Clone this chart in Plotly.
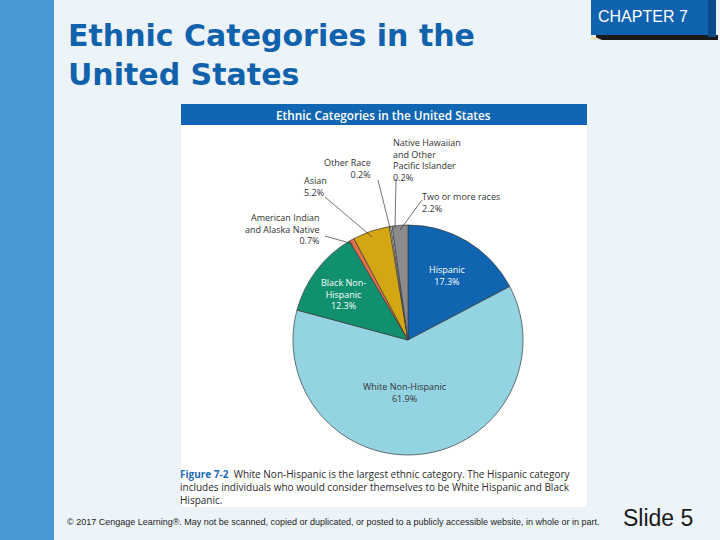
import plotly.graph_objects as go

# ---------------- data ----------------
categories = ["Hispanic", "White Non-Hispanic", "Black Non-Hispanic",
              "American Indian and Alaska Native", "Asian", "Other Race",
              "Native Hawaiian and Other Pacific Islander", "Two or more races"]
values = [17.3, 61.9, 12.3, 0.7, 5.2, 0.2, 0.2, 2.2]
label_lines = ["Hispanic", "White Non-Hispanic", "Black Non-<br>Hispanic",
               "American Indian<br>and Alaska Native", "Asian", "Other Race",
               "Native Hawaiian<br>and Other<br>Pacific Islander", "Two or more races"]
colors = ["#1064b0", "#93d3e2", "#10906f", "#e4714d", "#d4a614",
          "#f4eab8", "#ffffff", "#8b8b8d"]

slide_title = "Ethnic Categories in the<br>United States"
chart_title = "Ethnic Categories in the United States"
caption_lines = ["White Non-Hispanic is the largest ethnic category. The Hispanic category",
                 "includes individuals who would consider themselves to be White Hispanic and Black",
                 "Hispanic."]
figure_tag = "Figure 7-2"
footer = ("© 2017 Cengage Learning®. May not be scanned, copied or duplicated, "
          "or posted to a publicly accessible website, in whole or in part.")
chapter = "CHAPTER 7"
slide_no = "Slide 5"

W, H = 720, 540


def px(x):
    return x / W


def py(y):
    return 1 - y / H


# pie geometry (pixels)
cx, cy, r = 408, 340, 115

fig = go.Figure()
fig.add_trace(go.Pie(
    labels=categories, values=values, sort=False, direction="clockwise",
    rotation=0, textinfo="none", hoverinfo="label+percent",
    marker=dict(colors=colors, line=dict(color="#3a3a3a", width=0.7)),
    domain=dict(x=[px(cx - r), px(cx + r)], y=[py(cy + r), py(cy - r)]),
    showlegend=False,
))

shapes = []


def rect(x0, y0, x1, y1, color, layer="below"):
    shapes.append(dict(type="rect", xref="paper", yref="paper",
                       x0=px(x0), x1=px(x1), y0=py(y1), y1=py(y0),
                       fillcolor=color, line=dict(width=0), layer=layer))


def line(x0, y0, x1, y1):
    shapes.append(dict(type="line", xref="paper", yref="paper",
                       x0=px(x0), y0=py(y0), x1=px(x1), y1=py(y1),
                       line=dict(color="#3a3a3a", width=0.7), layer="above"))


# slide decorations
rect(0, 0, 54, 540, "#4a98d3")
rect(181, 104, 587, 507, "#ffffff")
rect(181, 104, 587, 125, "#1066b2")
# chapter box
rect(596, 35, 718, 40, "#1a1a1a")
rect(708, 0, 716, 37, "#0b4a8a")
rect(591, 0, 708, 35, "#0f63ae")
shapes.append(dict(type="path", xref="paper", yref="paper",
                   path=f"M {px(591)} {py(35)} L {px(602)} {py(40)} L {px(591)} {py(40)} Z",
                   fillcolor="#e6e2c4", line=dict(width=0), layer="below"))

# leader lines
line(396, 179, 395, 228)      # Native Hawaiian
line(378, 180, 390, 228)      # Other Race
line(325, 197, 372, 237)      # Asian
line(422, 200, 400, 230)      # Two or more races
line(325, 236, 353, 244)      # American Indian

annotations = []


def ann(text, x, y, size, color="#333333", family="Open Sans",
        xanchor="center", align="center", weight=None):
    f = dict(size=size, color=color, family=family)
    if weight:
        f["weight"] = weight
    annotations.append(dict(text=text, x=px(x), y=py(y), xref="paper", yref="paper",
                            xanchor=xanchor, yanchor="middle", align=align,
                            showarrow=False, font=f))


def block_center(first_center, n, size):
    return first_center + (n - 1) * 1.3 * size / 2


# slide title
ann(slide_title, 66, block_center(36, 2, 30), 30, color="#1062ac",
    family="DejaVu Sans", xanchor="left", align="left", weight="bold")
ann(chapter, 596, 16, 16, color="#ffffff", family="Liberation Sans",
    xanchor="left", align="left")
ann(chart_title, 383, 115, 11.8, color="#ffffff", family="Open Sans", weight=600)

# pie labels: (index, x, first-line y, anchor, colour)
lab_pos = [
    (0, 447, 270, "center", "#ffffff"),
    (1, 405, 387, "center", "#333333"),
    (2, 343, 282, "center", "#ffffff"),
    (3, 322, 217, "right", "#333333"),
    (4, 302, 181, "left", "#333333"),
    (5, 373, 163, "right", "#333333"),
    (6, 391, 142, "left", "#333333"),
    (7, 420, 197, "left", "#333333"),
]
for i, x, y0, anc, col in lab_pos:
    txt = f"{label_lines[i]}<br>{values[i]}%"
    n = txt.count("<br>") + 1
    ann(txt, x, block_center(y0, n, 9), 9, color=col,
        xanchor=anc, align=anc)

# caption
cap = (f"<b><span style='color:#1a6bb5'>{figure_tag}</span></b>  "
       + "<br>".join(caption_lines))
ann(cap, 178, block_center(474, 3, 10), 10, color="#2a2a2a",
    xanchor="left", align="left")

# footer
ann(footer, 65, 522, 9, color="#222222", family="Liberation Sans",
    xanchor="left", align="left")
ann(slide_no, 621, 518, 23, color="#1a1a1a", family="Liberation Sans",
    xanchor="left", align="left")

fig.update_layout(
    width=W, height=H, margin=dict(l=0, r=0, t=0, b=0),
    paper_bgcolor="#edf4f9", plot_bgcolor="#edf4f9",
    shapes=shapes, annotations=annotations,
)

fig.write_html("out.html", config={"displayModeBar": False},
               post_script="document.body.style.margin='0';")
